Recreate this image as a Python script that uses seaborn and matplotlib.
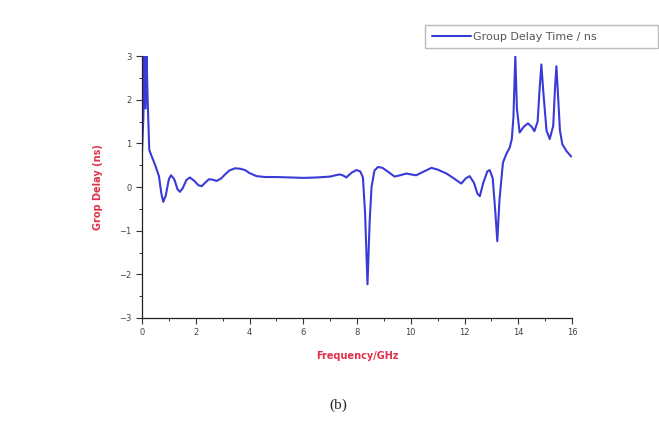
import pandas as pd
import matplotlib.pyplot as plt
import seaborn as sns
from matplotlib.ticker import MultipleLocator


# values
freq = [
    0, 0.05, 0.09, 0.13, 0.17, 0.21, 0.27, 0.35, 0.48, 0.63,
    0.72, 0.79, 0.88, 1.0, 1.08, 1.2, 1.32, 1.41, 1.52, 1.65,
    1.78, 1.95, 2.1, 2.22, 2.35, 2.49, 2.62, 2.78, 2.95, 3.09,
    3.25, 3.46, 3.65, 3.83, 4.0, 4.26, 4.6, 5.0, 5.5, 6.0,
    6.5, 7.0, 7.2, 7.36, 7.5, 7.6, 7.8, 7.98, 8.12, 8.22,
    8.3, 8.39, 8.47, 8.54, 8.65, 8.78, 8.95, 9.2, 9.4, 9.6,
    9.84, 10.0, 10.2, 10.5, 10.77, 11.0, 11.33, 11.6, 11.88, 12.05,
    12.19, 12.35, 12.48, 12.57, 12.7, 12.85, 12.94, 13.05, 13.15, 13.22,
    13.3, 13.43, 13.55, 13.68, 13.76, 13.82, 13.89, 13.95, 14.05, 14.2,
    14.36, 14.5, 14.6, 14.72, 14.8, 14.86, 14.93, 15.05, 15.17, 15.3,
    15.37, 15.42, 15.48, 15.55, 15.64, 15.8, 15.97,
]
delay = [
    0.8, 1.6, 3.0, 1.8, 3.0, 2.0, 0.85, 0.72, 0.52, 0.25,
    -0.15, -0.34, -0.2, 0.18, 0.27, 0.18, -0.05, -0.11, -0.02, 0.16,
    0.22, 0.14, 0.04, 0.02, 0.1, 0.18, 0.17, 0.14, 0.2, 0.29,
    0.38, 0.43, 0.42, 0.39, 0.32, 0.25, 0.23, 0.23, 0.22, 0.21,
    0.22, 0.24, 0.27, 0.29, 0.26, 0.22, 0.33, 0.39, 0.36, 0.22,
    -0.6, -2.23, -0.8, 0.0, 0.38, 0.46, 0.44, 0.33, 0.24, 0.27,
    0.31, 0.29, 0.27, 0.36, 0.44, 0.4, 0.31, 0.2, 0.08, 0.2,
    0.25, 0.1, -0.15, -0.21, 0.1, 0.36, 0.39, 0.2, -0.6, -1.24,
    -0.3, 0.56, 0.75, 0.9, 1.1, 1.6, 3.0, 1.8, 1.25, 1.38,
    1.46, 1.38, 1.28, 1.5, 2.3, 2.81, 2.2, 1.3, 1.1, 1.4,
    2.3, 2.77, 2.1, 1.3, 0.98, 0.82, 0.7,
]
df = pd.DataFrame({"freq": freq, "delay": delay})

sns.set_style("ticks")
plt.rcParams["font.family"] = ["DejaVu Sans"]

fig = plt.figure(figsize=(6.59, 4.32), dpi=100)
ax = fig.add_axes([0.2155, 0.264, 0.6525, 0.606])

sns.lineplot(data=df, x="freq", y="delay", ax=ax, color="#3a3ad8",
             linewidth=1.5, label="Group Delay Time / ns", legend=False)

ax.set_xlim(0, 16)
ax.set_ylim(-3, 3)
ax.xaxis.set_major_locator(MultipleLocator(2))
ax.xaxis.set_minor_locator(MultipleLocator(1))
ax.yaxis.set_major_locator(MultipleLocator(1))
ax.yaxis.set_minor_locator(MultipleLocator(0.5))
ax.tick_params(which="major", length=4, width=0.8, labelsize=6,
               labelcolor="#444444", color="#333333")
ax.tick_params(which="minor", length=2, width=0.7, color="#333333")
sns.despine(ax=ax)
for s in ["left", "bottom"]:
    ax.spines[s].set_linewidth(0.9)
    ax.spines[s].set_color("#222222")

ax.set_xlabel("Frequency/GHz", color="#e03048", fontsize=7,
              fontweight="bold", labelpad=10)
ax.set_ylabel("Grop Delay (ns)", color="#e03048", fontsize=7,
              fontweight="bold", labelpad=12)

fig.legend(loc="upper left", bbox_to_anchor=(0.645, 0.892, 0.3536, 0.05),
           mode="expand", borderaxespad=0, fontsize=8, frameon=True,
           fancybox=False, edgecolor="#aaaaaa", handlelength=3.5,
           handletextpad=0.25, borderpad=0.6, labelcolor="#555555")

fig.text(0.513, 0.062, "(b)", fontsize=11, ha="center", va="center",
         family="Liberation Serif")

plt.savefig("out.png", dpi=100)
